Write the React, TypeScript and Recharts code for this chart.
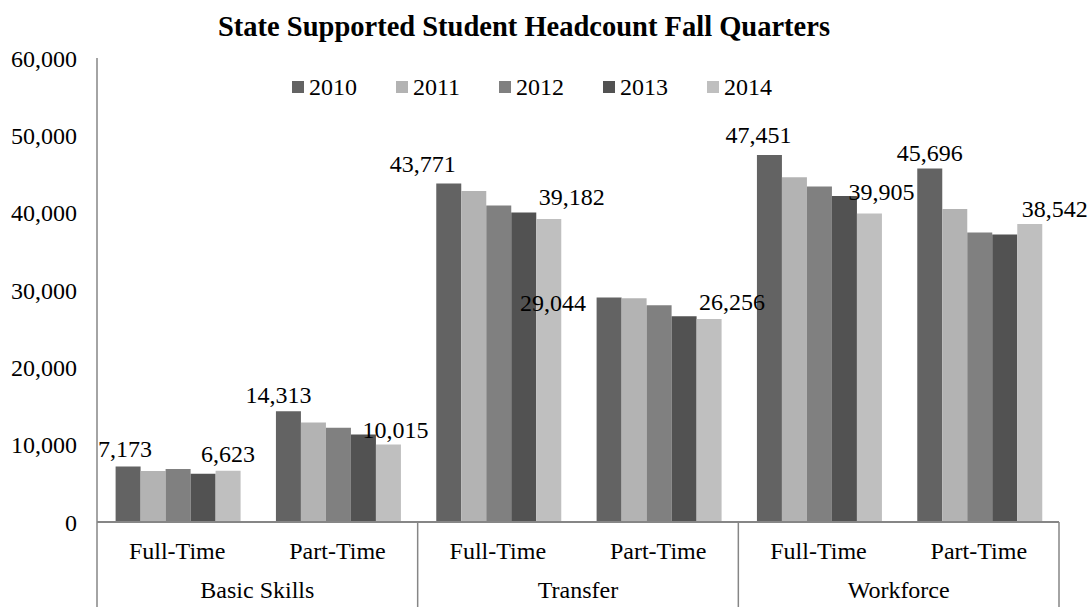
import React from 'react';
import { BarChart, Bar, XAxis, YAxis, Legend, LabelList } from 'recharts';

const groups = ['Basic Skills', 'Basic Skills', 'Transfer', 'Transfer', 'Workforce', 'Workforce'];
const subs = ['Full-Time', 'Part-Time', 'Full-Time', 'Part-Time', 'Full-Time', 'Part-Time'];
const years = ['2010', '2011', '2012', '2013', '2014'];
const v2010 = [7173, 14313, 43771, 29044, 47451, 45696];
const v2011 = [6600, 12860, 42800, 28940, 44570, 40480];
const v2012 = [6850, 12200, 40920, 28040, 43370, 37430];
const v2013 = [6240, 11330, 40010, 26610, 42160, 37170];
const v2014 = [6623, 10015, 39182, 26256, 39905, 38542];
const yTicks = [0, 10000, 20000, 30000, 40000, 50000, 60000];
const colors = ['#636363', '#b3b3b3', '#808080', '#525252', '#bfbfbf'];

// manual label nudges (dx, dy) relative to the top-centre of each labelled bar
const label2010Nudge = [[-3, -18], [-10, -17], [-26, -20], [-56, 5], [-11, -20], [0, -16]];
const label2014Nudge = [[0, -17], [7, -15], [23, -22], [23, -17], [12, -22], [25, -15]];

const series = [v2010, v2011, v2012, v2013, v2014];
const data = subs.map((s, i) => {
  const row: Record<string, string | number> = { sub: s, group: groups[i] };
  years.forEach((y, k) => {
    row[y] = series[k][i];
  });
  return row;
});

const FONT = 'Liberation Serif, Times New Roman, serif';
const fmt = (v: number) => Number(v).toLocaleString('en-US');

const makeLabel = (nudge: number[][]) => (props: any) => {
  const { x, y, width, value, index } = props;
  const [dx, dy] = nudge[index] || [0, -16];
  return (
    <text
      x={Number(x) + Number(width) / 2 + dx}
      y={Number(y) + dy}
      dy="0.35em"
      textAnchor="middle"
      fontFamily={FONT}
      fontSize={24}
      fill="#000"
    >
      {fmt(value)}
    </text>
  );
};

const XTick = (props: any) => {
  const { x, y, payload, index } = props;
  const half = payload && payload.offset ? payload.offset : 80.17;
  const bottom = 607;
  return (
    <g>
      <text x={x} y={y + 29} dy="0.35em" textAnchor="middle" fontFamily={FONT} fontSize={24} fill="#000">
        {payload.value}
      </text>
      {index % 2 === 0 && (
        <line x1={x - half} x2={x - half} y1={y} y2={bottom} stroke="#868686" strokeWidth={1.5} />
      )}
      {index % 2 === 1 && (
        <text x={x - half} y={y + 68} dy="0.35em" textAnchor="middle" fontFamily={FONT} fontSize={24} fill="#000">
          {groups[index]}
        </text>
      )}
      {index === subs.length - 1 && (
        <line x1={x + half} x2={x + half} y1={y} y2={bottom} stroke="#868686" strokeWidth={1.5} />
      )}
    </g>
  );
};

const LegendContent = (props: any) => {
  const payload = props.payload || [];
  return (
    <div style={{ display: 'flex', alignItems: 'center', height: 28 }}>
      {payload.map((p: any) => (
        <div key={p.value} style={{ display: 'flex', alignItems: 'center', marginRight: 39 }}>
          <div style={{ width: 12, height: 12, background: p.color, marginRight: 5 }} />
          <span style={{ fontFamily: FONT, fontSize: 24, color: '#000', lineHeight: '28px' }}>{p.value}</span>
        </div>
      ))}
    </div>
  );
};

export default function App() {
  return (
    <div style={{ position: 'absolute', left: 0, top: 0, width: 1091, height: 607, background: '#fff' }}>
      <svg width={1091} height={50} style={{ position: 'absolute', left: 0, top: 0 }}>
        <text x={524} y={36} textAnchor="middle" fontFamily={FONT} fontWeight="bold" fontSize={28.5} fill="#000">
          State Supported Student Headcount Fall Quarters
        </text>
      </svg>
      <div style={{ position: 'absolute', left: 0, top: 0 }}>
        <BarChart
          width={1091}
          height={607}
          data={data}
          margin={{ top: 58, right: 32, bottom: 0, left: 0 }}
          barCategoryGap="11.6%"
          barGap={0}
        >
          <XAxis
            dataKey="sub"
            interval={0}
            height={85}
            tickSize={0}
            tickMargin={0}
            tickLine={false}
            axisLine={{ stroke: '#868686', strokeWidth: 2 }}
            tick={<XTick />}
          />
          <YAxis
            width={97}
            domain={[0, 60000]}
            ticks={yTicks}
            interval={0}
            tickSize={0}
            tickMargin={20}
            tickLine={false}
            axisLine={{ stroke: '#868686', strokeWidth: 1.5 }}
            tickFormatter={fmt}
            tick={{ fontFamily: FONT, fontSize: 24, fill: '#000' }}
          />
          <Legend
            verticalAlign="middle"
            align="center"
            layout="horizontal"
            wrapperStyle={{ position: 'absolute', top: 73, left: 292, width: 600 }}
            content={<LegendContent />}
          />
          {years.map((yr, k) => (
            <Bar key={yr} dataKey={yr} fill={colors[k]} isAnimationActive={false}>
              {k === 0 && <LabelList dataKey={yr} content={makeLabel(label2010Nudge)} />}
              {k === 4 && <LabelList dataKey={yr} content={makeLabel(label2014Nudge)} />}
            </Bar>
          ))}
        </BarChart>
      </div>
    </div>
  );
}
